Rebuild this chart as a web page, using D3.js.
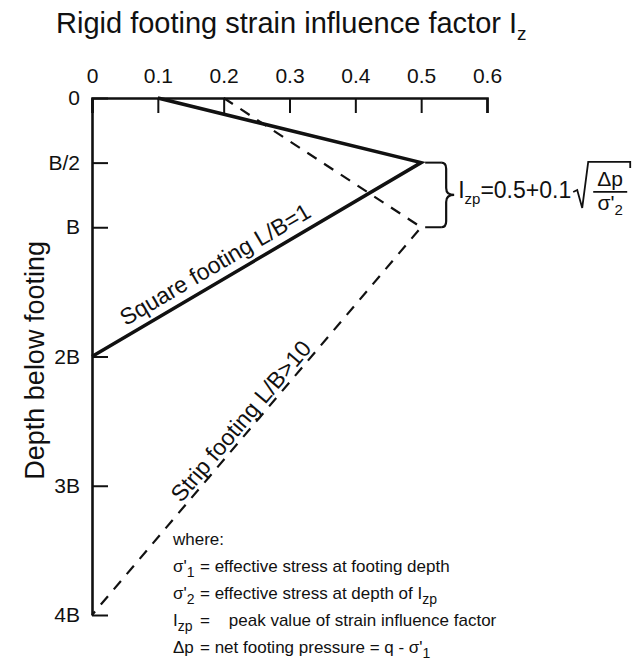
<!DOCTYPE html>
<html>
<head>
<meta charset="utf-8">
<script src="https://cdn.jsdelivr.net/npm/d3@7"></script>
<style>
  body { margin: 0; background: #fff; }
  text { font-family: "Liberation Sans", Arial, sans-serif; fill: #111; white-space: pre; }
</style>
</head>
<body>
<script>
// chart values
var izTicks = [0, 0.1, 0.2, 0.3, 0.4, 0.5, 0.6];
var depthTicks = [0, 0.5, 1, 2, 3, 4];
var depthLabels = ["0", "B/2", "B", "2B", "3B", "4B"];

// strain influence factor profiles (Iz, depth in B)
var squareIz = [0.1, 0.5, 0];
var squareDepth = [0, 0.5, 2];
var stripIz = [0.2, 0.5, 0];
var stripDepth = [0, 1, 4];

// notes under the chart, segments are [text, subscript?]
var noteSymbols = [
  [],
  [["σ'"], ["1", 1]],
  [["σ'"], ["2", 1]],
  [["I"], ["zp", 1]],
  [["Δp"]]
];
var noteTexts = [
  [["where:"]],
  [["= effective stress at footing depth"]],
  [["= effective stress at depth of I"], ["zp", 1]],
  [["=    peak value of strain influence factor"]],
  [["= net footing pressure = q - σ'"], ["1", 1]]
];

var width = 643, height = 661;

var svg = d3.select("body").append("svg")
    .attr("width", width)
    .attr("height", height);

// set the ranges
var x = d3.scaleLinear().domain([0, 0.6]).range([92, 487]);
var y = d3.scaleLinear().domain([0, 4]).range([98, 615]);

// title
var title = svg.append("text")
    .attr("x", 56)
    .attr("y", 33)
    .style("font-size", "29px");
title.append("tspan").text("Rigid footing strain influence factor I");
title.append("tspan").attr("dy", 7).style("font-size", "19px").text("z");

// top axis
svg.append("g")
    .attr("transform", "translate(0," + y(0) + ")")
    .call(d3.axisTop(x)
      .tickValues(izTicks)
      .tickFormat(function(d) { return String(d); })
      .tickSize(-15)
      .tickSizeOuter(-15)
      .tickPadding(15));

// left axis
svg.append("g")
    .attr("transform", "translate(" + x(0) + ",0)")
    .call(d3.axisLeft(y)
      .tickValues(depthTicks)
      .tickFormat(function(d, i) { return depthLabels[i]; })
      .tickSize(-16)
      .tickSizeOuter(0)
      .tickPadding(12));

svg.selectAll(".domain").attr("stroke", "#111").attr("stroke-width", 2.6);
svg.selectAll(".tick line").attr("stroke", "#111").attr("stroke-width", 2);
svg.selectAll(".tick text")
    .attr("font-family", "Liberation Sans, Arial, sans-serif")
    .style("font-size", "21px")
    .attr("fill", "#111");

// y axis label
svg.append("text")
    .attr("transform", "translate(44," + y(2.03) + ") rotate(-90)")
    .attr("text-anchor", "middle")
    .style("font-size", "27px")
    .text("Depth below footing");

// profile lines
var line = d3.line()
    .x(function(d) { return x(d[0]); })
    .y(function(d) { return y(d[1]); });

svg.append("path")
    .datum(d3.zip(squareIz, squareDepth))
    .attr("d", line)
    .attr("fill", "none")
    .attr("stroke", "#111")
    .attr("stroke-width", 3.5);

svg.append("path")
    .datum(d3.zip(stripIz, stripDepth))
    .attr("d", line)
    .attr("fill", "none")
    .attr("stroke", "#111")
    .attr("stroke-width", 2.2)
    .attr("stroke-dasharray", "11,9");

// labels along the lines
function slopeLabel(a, b, t, off, size, txt) {
  var x0 = x(a[0]), y0 = y(a[1]), x1 = x(b[0]), y1 = y(b[1]);
  var ang = Math.atan2(y1 - y0, x1 - x0) * 180 / Math.PI;
  var px = x0 + t * (x1 - x0), py = y0 + t * (y1 - y0);
  svg.append("text")
      .attr("transform", "translate(" + px + "," + py + ") rotate(" + ang + ")")
      .attr("y", -off)
      .attr("text-anchor", "middle")
      .style("font-size", size + "px")
      .text(txt);
}
slopeLabel([squareIz[2], squareDepth[2]], [squareIz[1], squareDepth[1]], 0.40, 9, 23, "Square footing L/B=1");
slopeLabel([stripIz[2], stripDepth[2]], [stripIz[1], stripDepth[1]], 0.48, 4, 23, "Strip footing L/B>10");

// leaders from the peaks to the brace
var px0 = x(squareIz[1]);
[squareDepth[1], stripDepth[1]].forEach(function(d) {
  svg.append("line")
      .attr("x1", px0 + 4).attr("x2", px0 + 20)
      .attr("y1", y(d)).attr("y2", y(d))
      .attr("stroke", "#111")
      .attr("stroke-width", 2);
});

// brace
var bx = px0 + 25, by0 = y(squareDepth[1]), by1 = y(stripDepth[1]), bm = (by0 + by1) / 2;
var bp = d3.path();
bp.moveTo(bx - 5, by0);
bp.quadraticCurveTo(bx, by0, bx, by0 + 6);
bp.lineTo(bx, bm - 7);
bp.quadraticCurveTo(bx, bm, bx + 8, bm);
bp.quadraticCurveTo(bx, bm, bx, bm + 7);
bp.lineTo(bx, by1 - 6);
bp.quadraticCurveTo(bx, by1, bx - 5, by1);
svg.append("path")
    .attr("d", bp.toString())
    .attr("fill", "none")
    .attr("stroke", "#111")
    .attr("stroke-width", 2.2);

// formula for peak value
var fy = bm + 3;
var f = svg.append("text")
    .attr("x", bx + 12)
    .attr("y", fy)
    .style("font-size", "23px");
f.append("tspan").text("I");
f.append("tspan").attr("dy", 6).style("font-size", "15px").text("zp");
f.append("tspan").attr("dy", -6).text("=0.5+0.1");
var fx = bx + 12 + f.node().getComputedTextLength();

var rp = d3.path();
rp.moveTo(fx + 2, fy - 6);
rp.lineTo(fx + 6, fy - 8);
rp.lineTo(fx + 11, fy + 10);
rp.lineTo(fx + 17, fy - 36);
rp.lineTo(fx + 59, fy - 36);
rp.lineTo(fx + 59, fy - 30);
svg.append("path")
    .attr("d", rp.toString())
    .attr("fill", "none")
    .attr("stroke", "#111")
    .attr("stroke-width", 1.8);

svg.append("line")
    .attr("x1", fx + 22).attr("x2", fx + 56)
    .attr("y1", fy - 6).attr("y2", fy - 6)
    .attr("stroke", "#111")
    .attr("stroke-width", 1.8);

svg.append("text")
    .attr("x", fx + 39)
    .attr("y", fy - 12)
    .attr("text-anchor", "middle")
    .style("font-size", "21px")
    .text("Δp");

var den = svg.append("text")
    .attr("x", fx + 39)
    .attr("y", fy + 12)
    .attr("text-anchor", "middle")
    .style("font-size", "21px");
den.append("tspan").text("σ'");
den.append("tspan").attr("dy", 5).style("font-size", "15px").text("2");

// notes
function addSegs(t, segs, state) {
  segs.forEach(function(seg, k) {
    var sub = seg[1] === 1;
    var dy = sub && !state.low ? 5 : (!sub && state.low ? -5 : 0);
    var ts = t.append("tspan")
        .attr("dy", dy)
        .style("font-size", sub ? "14px" : "17px")
        .text(seg[0]);
    if (k === 0 && state.x != null) ts.attr("x", state.x);
    state.low = sub;
  });
}
noteTexts.forEach(function(row, i) {
  var t = svg.append("text")
      .attr("x", 173)
      .attr("y", 545 + i * 27)
      .style("font-size", "17px");
  var state = {low: false, x: null};
  addSegs(t, noteSymbols[i], state);
  state.x = noteSymbols[i].length ? 200 : null;
  addSegs(t, row, state);
});
</script>
</body>
</html>
